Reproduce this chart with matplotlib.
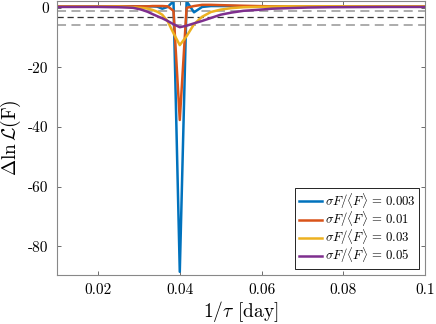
import matplotlib
matplotlib.use('Agg')
import matplotlib.pyplot as plt

plt.rcParams['font.family'] = ['cmr10', 'DejaVu Serif']
plt.rcParams['mathtext.fontset'] = 'cm'
plt.rcParams['axes.unicode_minus'] = False

# periodos testados (dias) -> eixo x = 1/tau
tau = [100, 90, 80, 70, 60, 50, 45, 40, 37, 35, 33, 32, 31, 30, 29, 28, 27,
       26, 25, 24, 23, 22, 21, 20, 19, 18, 17, 16, 15, 14, 13, 12, 11, 10]

dlnL_003 = [0.5, 0.5, 0.5, 0.5, 0.5, 0.5, 0.5, 0.5, 0.5, 0.5, 0.5, 0.5, 0.5, 0.5, 0.4, -0.3, 0.3,
            2.2, -88.5, 2.2, -1.5, 0.3, 0.6, 0.6, 0.6, 0.5, 0.5, 0.5, 0.5, 0.5, 0.5, 0.5, 0.5, 0.5]
dlnL_01 = [0.5, 0.5, 0.5, 0.5, 0.5, 0.5, 0.5, 0.5, 0.5, 0.5, 0.5, 0.5, 0.5, 0.6, 0.6, 0.6, 0.5,
           -1.0, -37.6, 0.0, 0.6, 1.0, 1.0, 0.9, 0.8, 0.7, 0.6, 0.5, 0.5, 0.5, 0.5, 0.5, 0.5, 0.5]
dlnL_03 = [0.4, 0.4, 0.4, 0.4, 0.4, 0.4, 0.4, 0.4, 0.3, 0.2, 0.0, -0.1, -0.3, -0.7, -1.3, -2.3, -4.5,
           -8.5, -12.5, -9.5, -5.5, -3.0, -1.4, -0.6, -0.1, 0.2, 0.3, 0.4, 0.5, 0.5, 0.5, 0.5, 0.5, 0.5]
dlnL_05 = [0.3, 0.3, 0.3, 0.3, 0.3, 0.3, 0.25, 0.2, 0.1, 0.0, -0.5, -0.9, -1.4, -2.1, -2.8, -3.5, -4.4,
           -5.5, -6.5, -6.0, -5.2, -4.4, -3.4, -2.3, -1.6, -1.0, -0.7, -0.3, -0.1, 0.1, 0.2, 0.25, 0.3, 0.3]

rotulos = ['0.003', '0.01', '0.03', '0.05']
cores = ['#0072BD', '#D95319', '#EDB120', '#7E2F8E']

# niveis de confianca (1, 2, 3 sigma)
niveis = [-1.15, -3.09, -5.92]
cores_niveis = ['#a6a6a6', '#333333', '#a6a6a6']

freq = [1.0 / t for t in tau]

fig = plt.figure(figsize=(4.36, 3.24), dpi=100)
ax = fig.add_axes([0.131, 0.151, 0.844, 0.846])

for nivel, c in zip(niveis, cores_niveis):
    if c == '#333333':
        ax.axhline(nivel, color=c, lw=0.9, ls=(0, (5, 3)), zorder=1)
    else:
        ax.axhline(nivel, color=c, lw=1.3, ls=(0, (5, 3)), zorder=1)

for serie, rot, c in zip([dlnL_003, dlnL_01, dlnL_03, dlnL_05], rotulos, cores):
    ax.plot(freq, serie, color=c, lw=1.8, zorder=2,
            label=r'$\sigma F/\langle F\rangle\,=\,%s$' % rot)

ax.set_xlim(0.01, 0.1)
ax.set_ylim(-89.6, 2.3)
ax.set_xticks([0.02, 0.04, 0.06, 0.08, 0.1])
ax.set_xticklabels(['0.02', '0.04', '0.06', '0.08', '0.1'])
ax.set_yticks([-80, -60, -40, -20, 0])
ax.set_yticklabels(['-80', '-60', '-40', '-20', '0'])
ax.tick_params(direction='in', top=True, right=True, length=3, width=0.6,
               color='#555555', labelsize=11, pad=6)
for s in ax.spines.values():
    s.set_color('#888888')
    s.set_linewidth(0.8)

ax.set_xlabel(r'$1/\tau$ [day]', fontsize=14, labelpad=1)
ax.set_ylabel(r'$\Delta\ln\mathcal{L}$(F)', fontsize=14, labelpad=4)

leg = ax.legend(loc='lower right', fontsize=9.2, handlelength=1.8, handletextpad=0.25,
                borderpad=0.25, labelspacing=-0.12, fancybox=False, framealpha=1,
                borderaxespad=0.5)
leg.get_frame().set_edgecolor('black')
leg.get_frame().set_linewidth(0.6)

plt.savefig('out.png', dpi=100)
